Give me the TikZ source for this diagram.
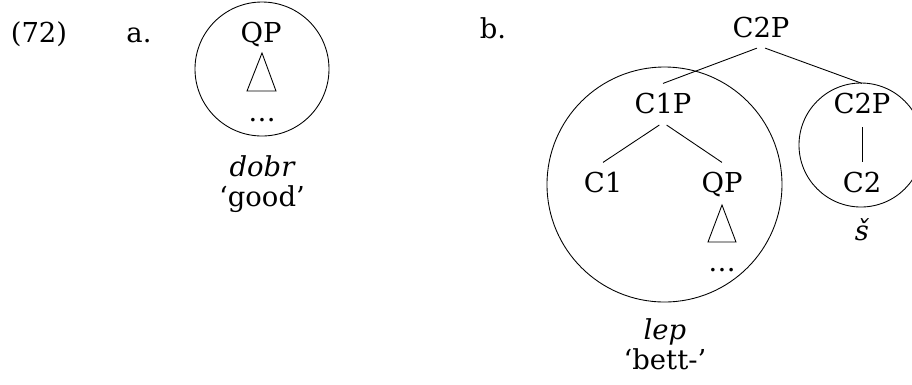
\documentclass[tikz,border=0pt]{standalone}
\usepackage{fontspec}
\setmainfont{DejaVu Serif}
\usetikzlibrary{positioning}

\begin{document}
\begin{tikzpicture}[x=0.016cm, y=-0.016cm,
        lbl/.style={anchor=base, inner xsep=1pt, inner ysep=4pt, font=\fontsize{12.5}{15}\selectfont},
        branch/.style={thin, shorten <=2pt},
        roof/.style={thin},
        ring/.style={thin}]
    \useasboundingbox (0,0) rectangle (912,384);

    % (a)
    \node[lbl] (exnum) at (39, 42) {(72)};
    \node[lbl] (suba) at (139, 42) {a.};
    \node[lbl] (qpa) at (261, 42) {QP};
    \draw[roof] (262, 53) -- (247, 91) -- (276, 91) -- cycle;
    \node[lbl] (dotsa) at (262, 121) {\dots};
    \draw[ring] (262, 69) circle [radius=67];
    \node[lbl] (dobr) at (262, 176) {\itshape dobr};
    \node[lbl] (good) at (262, 206) {`good'};

    % (b)
    \node[lbl] (subb) at (493, 38) {b.};
    \node[lbl] (ctwotop) at (761, 37) {C2P};
    \node[lbl] (conep) at (663, 113) {C1P};
    \node[lbl] (ctwop) at (862, 113) {C2P};
    \node[lbl] (cone) at (603, 192) {C1};
    \node[lbl] (qpb) at (722, 192) {QP};
    \node[lbl] (ctwo) at (862, 192) {C2};

    \draw[branch] (ctwotop.south) -- (conep.north);
    \draw[branch] (ctwotop.south) -- (ctwop.north);
    \draw[branch] (conep.south) -- (cone.north);
    \draw[branch] (conep.south) -- (qpb.north);
    \draw[branch] (ctwop.south) -- (ctwo.north);

    \draw[roof] (722, 205) -- (708, 242) -- (736, 242) -- cycle;
    \node[lbl] (dotsb) at (722, 271) {\dots};
    \node[lbl] (esh) at (862, 240) {\itshape š};

    \draw[ring] (664.5, 184.5) circle [radius=117.5];
    \draw[ring] (861, 145) circle [radius=62];

    \node[lbl] (lep) at (665, 339) {\itshape lep};
    \node[lbl] (bett) at (665, 369) {`bett-'};
\end{tikzpicture}
\end{document}
